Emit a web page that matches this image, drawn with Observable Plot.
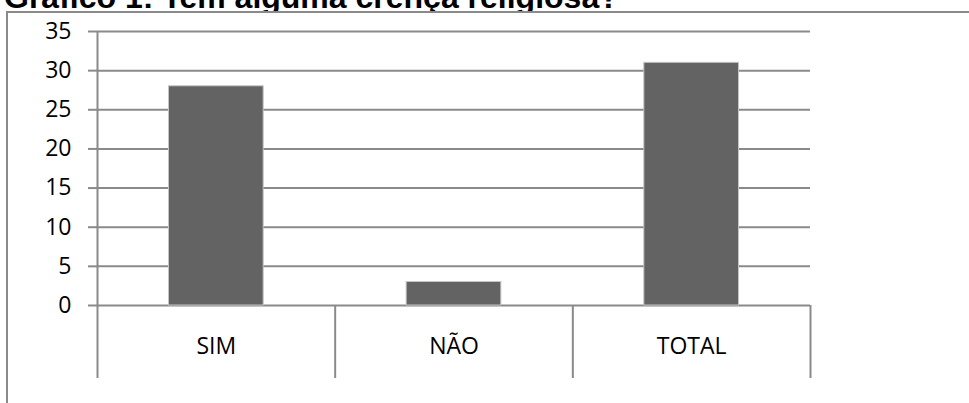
<!DOCTYPE html>
<html>
<head>
<meta charset="utf-8">
<script src="https://cdn.jsdelivr.net/npm/d3@7"></script>
<script src="https://cdn.jsdelivr.net/npm/@observablehq/plot@0.6"></script>
<style>
  html, body { margin: 0; padding: 0; background: #fff; overflow: hidden; }
  body { width: 969px; height: 403px; position: relative; }
  #title {
    position: absolute; left: 4px; top: -19.3px;
    font: bold 32px "Liberation Sans", Arial, sans-serif;
    line-height: 1; white-space: nowrap; color: #000; z-index: 1;
  }
  #frame {
    position: absolute; left: 6px; top: 11px; width: 963px; height: 392px;
    border-left: 2px solid #8a8a8a; border-top: 2px solid #8a8a8a;
    background: #fff; z-index: 2;
  }
  #frame svg { display: block; }
</style>
</head>
<body>
<div id="title">Gráfico 1: Tem alguma crença religiosa?</div>
<div id="frame"></div>
<script>
const categories = ["SIM", "NÃO", "TOTAL"];
const values = [28, 3, 31];
const yTicks = [0, 5, 10, 15, 20, 25, 30, 35];

const data = categories.map((c, i) => ({ category: c, index: i, value: values[i] }));
const edges = d3.range(categories.length + 1);
const centers = categories.map((c, i) => i + 0.5);

const grid = "#8a8a8a";

const chart = Plot.plot({
  width: 961,
  height: 390,
  marginLeft: 89,
  marginRight: 159,
  marginTop: 18,
  marginBottom: 98,
  style: { fontFamily: "'Open Sans', sans-serif", fontSize: "23px", color: "#000", background: "#fff" },
  x: { type: "linear", domain: [0, categories.length], axis: null },
  y: { domain: [0, 35], axis: null },
  marks: [
    Plot.ruleY(yTicks, { stroke: grid, strokeWidth: 2 }),
    Plot.rectY(data, {
      x1: "index",
      x2: d => d.index + 1,
      y: "value",
      insetLeft: 71.5,
      insetRight: 71.5,
      fill: "#636363",
      stroke: "#c4c4c4",
      strokeWidth: 1
    }),
    Plot.ruleX([0], { y1: 0, y2: 35, stroke: grid, strokeWidth: 2 }),
    Plot.axisY({
      ticks: yTicks,
      tickSize: 9,
      tickPadding: 17,
      stroke: grid,
      strokeWidth: 2,
      strokeOpacity: 1,
      label: null,
      fill: "#000",
      fontSize: 23
    }),
    Plot.axisX({
      ticks: edges,
      tickSize: 73,
      tickFormat: () => "",
      stroke: grid,
      strokeWidth: 2,
      strokeOpacity: 1,
      label: null
    }),
    Plot.axisX({
      ticks: centers,
      tickSize: 0,
      tickPadding: 32,
      tickFormat: d => categories[Math.floor(d)],
      label: null,
      fill: "#000",
      fontSize: 23
    })
  ]
});
document.getElementById("frame").appendChild(chart);
</script>
</body>
</html>
